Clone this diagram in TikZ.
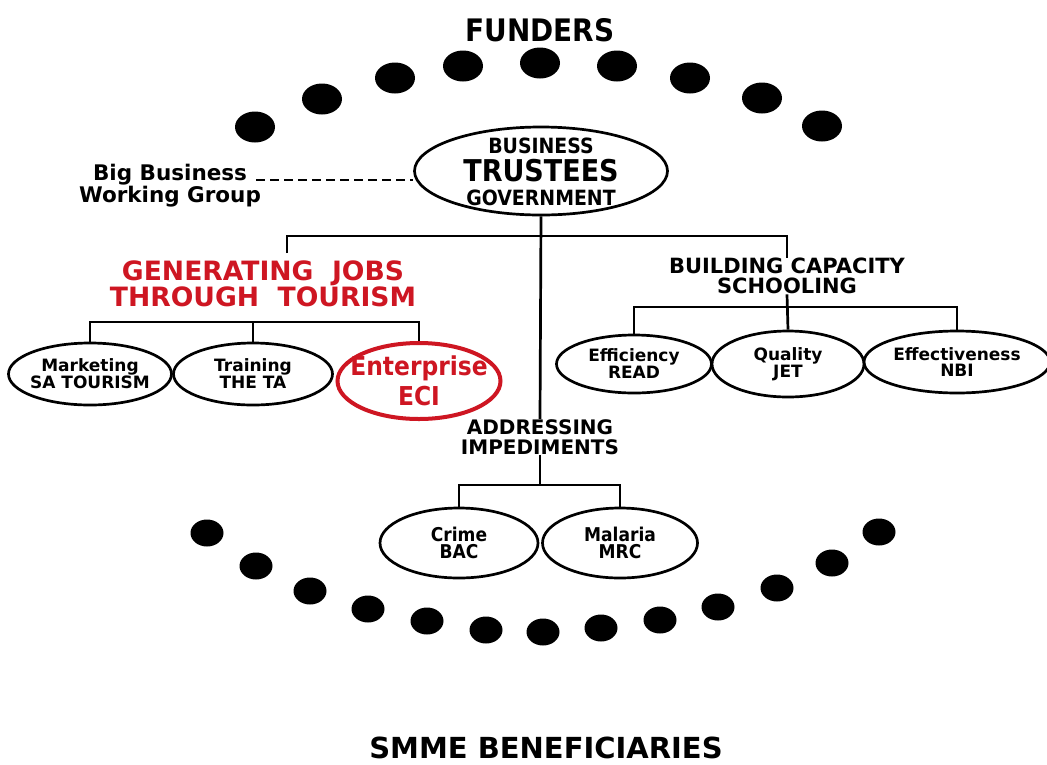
\documentclass[tikz,border=0pt]{standalone}
\usepackage{fontspec}
\setmainfont{DejaVu Sans}
\newfontfamily\narrowfont{DejaVu Sans Condensed}
\usetikzlibrary{shapes.geometric}
\definecolor{jobred}{RGB}{206,22,34}
\newcommand{\fsz}[1]{\fontsize{#1}{#1}\selectfont}
\begin{document}
\begin{tikzpicture}[x=1pt,y=-1pt,
  bigdot/.style={ellipse,fill=black,inner sep=0,minimum width=40,minimum height=31},
  smalldot/.style={ellipse,fill=black,inner sep=0,minimum width=33,minimum height=27},
  oval/.style={ellipse,draw=black,line width=2.7pt,inner sep=0},
  redoval/.style={ellipse,draw=jobred,line width=4pt,inner sep=0},
  link/.style={draw=black,line width=2.7pt},
  heading/.style={font=\bfseries,align=center,inner sep=0},
  word/.style={inner sep=0},
  small/.style={font=\bfseries\fontsize{17}{16}\selectfont,align=center,inner sep=0},
  tight/.style={font=\narrowfont\bfseries\fontsize{19}{17}\selectfont,align=center,inner sep=0}
]
\fill[white] (0,0) rectangle (1047,764);
\useasboundingbox (0,0) rectangle (1047,764);

% arc of funders
\node[word,font=\narrowfont\bfseries\fsz{31}] (funders) at (540,30) {FUNDERS};
\foreach \x/\y [count=\i] in {255/127,322/99,395/78,463/66,540/63,617/66,690/78,762/98,822/126}
  \node[bigdot] (f\i) at (\x,\y) {};

% trustees
\node[oval,minimum width=253,minimum height=88] (trust) at (541,171) {};
\node[word,font=\narrowfont\bfseries\fsz{21}] (tbus) at (541,146) {BUSINESS};
\node[word,font=\narrowfont\bfseries\fsz{30}] (ttru) at (541,171) {TRUSTEES};
\node[word,font=\narrowfont\bfseries\fsz{21}] (tgov) at (541,198) {GOVERNMENT};

\node[heading,font=\bfseries\fontsize{21.5}{20}\selectfont] (bbwg) at (170,186) {Big Business\\Working Group};
\coordinate (dstart) at (256,180);
\draw[line width=2pt,dash pattern=on 9pt off 5pt] (dstart) -- (dstart -| trust.west);

% three programmes
\node[heading,text=jobred,font=\bfseries\fontsize{26.6}{26}\selectfont] (gen) at (263,284) {GENERATING\ \ JOBS\\THROUGH\ \ TOURISM};
\node[heading,font=\bfseries\fontsize{21}{20.5}\selectfont] (build) at (787,276) {BUILDING CAPACITY\\SCHOOLING};
\node[heading,font=\bfseries\fontsize{20}{20}\selectfont] (addr) at (540,437) {ADDRESSING\\IMPEDIMENTS};

\coordinate (busbar) at (540,236);
\coordinate (gentop) at (287,253);
\draw[link] (trust.south) -- (addr.north);
\draw[link] (gentop) |- (busbar) -| (build.north);

% tourism partners
\node[oval,minimum width=163,minimum height=62] (mkt) at (90,374) {};
\node[small] (mktl) at (mkt) {Marketing\\SA TOURISM};
\node[oval,minimum width=159,minimum height=62] (trn) at (253,374) {};
\node[small] (trnl) at (trn) {Training\\THE TA};
\node[redoval,minimum width=163,minimum height=76] (ent) at (419,381) {};
\node[heading,text=jobred,font=\narrowfont\bfseries\fontsize{26}{30}\selectfont] (entl) at (ent) {Enterprise\\ECI};
\coordinate (tourbar) at (253,322);
\draw[link] (mkt.north) |- (tourbar) -| (ent.north);
\draw[link] (tourbar) -- (trn.north);

% schooling partners
\node[oval,minimum width=155,minimum height=58] (eff) at (634,364) {};
\node[small] (effl) at (eff) {Efficiency\\READ};
\node[oval,minimum width=152,minimum height=66] (qua) at (788,364) {};
\node[small] (qual) at (qua) {Quality\\JET};
\node[oval,minimum width=186,minimum height=62] (efv) at (957,362) {};
\node[small] (efvl) at (efv) {Effectiveness\\NBI};
\coordinate (schbar) at (788,307);
\draw[link] (eff.north) |- (schbar) -| (efv.north);
\draw[link] (build.south) -- (qua.north);

% impediment partners
\node[oval,minimum width=158,minimum height=70] (crm) at (459,543) {};
\node[tight] (crml) at (crm) {Crime\\BAC};
\node[oval,minimum width=155,minimum height=70] (mal) at (620,543) {};
\node[tight] (mall) at (mal) {Malaria\\MRC};
\coordinate (impbar) at (540,485);
\draw[link] (addr.south) -- (impbar);
\draw[link] (crm.north) |- (impbar) -| (mal.north);

% arc of beneficiaries
\foreach \x/\y [count=\i] in {207/533,256/566,310/591,368/609,427/621,486/630,543/632,601/628,660/620,718/607,777/588,832/563,879/532}
  \node[smalldot] (b\i) at (\x,\y) {};
\node[word,font=\bfseries\fsz{29}] (smme) at (546,748) {SMME BENEFICIARIES};
\end{tikzpicture}
\end{document}
